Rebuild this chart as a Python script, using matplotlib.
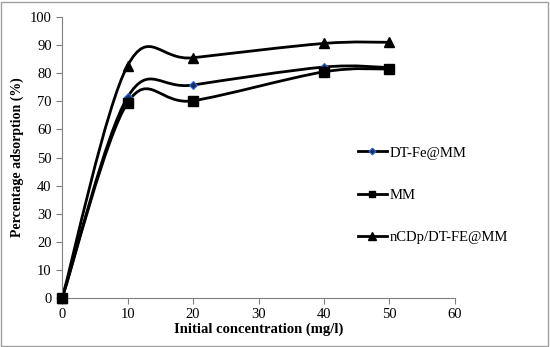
import matplotlib
matplotlib.use("Agg")
import matplotlib.pyplot as plt
import numpy as np
from matplotlib.path import Path
from matplotlib.patches import PathPatch, Rectangle
from matplotlib.lines import Line2D

conc = [0, 10, 20, 40, 50]
dt_fe = [0, 71.5, 75.8, 82.2, 82.0]
mm = [0, 69.5, 70.2, 80.5, 81.5]
ncdp = [0, 82.7, 85.5, 90.6, 91.0]

labels = ["DT-Fe@MM", "MM", "nCDp/DT-FE@MM"]

plt.rcParams["font.family"] = ["Liberation Serif", "DejaVu Serif"]


def smooth_path(ax, xs, ys):
    """Excel-style smoothed line: Catmull-Rom spline as cubic Bezier in display space."""
    pts = ax.transData.transform(np.column_stack([xs, ys]))
    n = len(pts)
    verts = [pts[0]]
    codes = [Path.MOVETO]
    for i in range(n - 1):
        p0 = pts[i - 1] if i > 0 else pts[i]
        p1 = pts[i]
        p2 = pts[i + 1]
        p3 = pts[i + 2] if i + 2 < n else pts[i + 1]
        c1 = p1 + (p2 - p0) / 6.0
        c2 = p2 - (p3 - p1) / 6.0
        verts += [c1, c2, p2]
        codes += [Path.CURVE4] * 3
    return Path(ax.transData.inverted().transform(np.array(verts)), codes)


fig = plt.figure(figsize=(5.5, 3.47), dpi=100)
ax = fig.add_axes([0.113, 0.141, 0.714, 0.810])
ax.set_xlim(0, 60)
ax.set_ylim(0, 100)

series = [
    (dt_fe, dict(marker="D", markerfacecolor="#1a2a6c", markeredgecolor="#2f6fd6", markeredgewidth=0.8), 4, 3.5),
    (mm, dict(marker="s", markerfacecolor="black", markeredgecolor="black"), 6.5, 5),
    (ncdp, dict(marker="^", markerfacecolor="black", markeredgecolor="black"), 7.5, 6),
]

handles = []
for (ys, mk, ms, ms_leg), lab in zip(series, labels):
    path = smooth_path(ax, conc, ys)
    ax.add_patch(PathPatch(path, facecolor="none", edgecolor="black", lw=2.0, zorder=2, clip_on=False))
    ax.plot(conc, ys, linestyle="none", markersize=ms, zorder=3, clip_on=False, **mk)
    handles.append(Line2D([], [], color="black", lw=2.0, markersize=ms_leg, label=lab, **mk))

for s in ["top", "right"]:
    ax.spines[s].set_visible(False)
for s in ["left", "bottom"]:
    ax.spines[s].set_color("#7f7f7f")
    ax.spines[s].set_linewidth(0.8)

ax.set_xticks(np.arange(0, 61, 10))
ax.set_yticks(np.arange(0, 101, 10))
ax.tick_params(direction="out", length=4, width=0.8, color="#7f7f7f", labelsize=10.5)

ax.set_xlabel("Initial concentration (mg/l)", fontsize=10.5, fontweight="bold", labelpad=1)
ax.set_ylabel("Percentage adsorption (%)", fontsize=10, fontweight="bold", labelpad=4)

fig.legend(handles=handles, loc="upper left", bbox_to_anchor=(0.64, 0.595),
           frameon=False, fontsize=10.5, handlelength=2.0, handletextpad=0.2,
           labelspacing=2.0, borderaxespad=0)

fig.add_artist(Rectangle((0.002, 0.003), 0.994, 0.992, transform=fig.transFigure,
                         facecolor="none", edgecolor="#a0a0a0", lw=1.0))

fig.savefig("out.png", dpi=100)
